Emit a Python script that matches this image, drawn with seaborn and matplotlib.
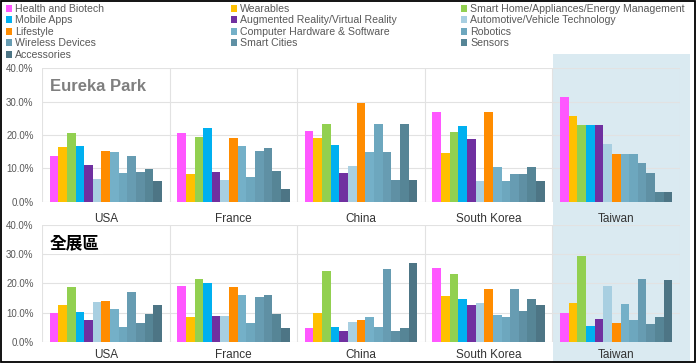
import pandas as pd
import seaborn as sns
import matplotlib.pyplot as plt
from matplotlib.patches import Patch, Rectangle
from matplotlib.ticker import PercentFormatter

# categories (legend order) and colours
categories = [
    "Health and Biotech", "Wearables", "Smart Home/Appliances/Energy Management",
    "Mobile Apps", "Augmented Reality/Virtual Reality", "Automotive/Vehicle Technology",
    "Lifestyle", "Computer Hardware & Software", "Robotics",
    "Wireless Devices", "Smart Cities", "Sensors",
    "Accessories",
]
colors = [
    "#FF57FF", "#FFC000", "#92D050",
    "#00B0F0", "#7030A0", "#A8CFE1",
    "#FF8C00", "#74B0C8", "#6DA7BE",
    "#679CB2", "#5F90A4", "#568596",
    "#4D7585",
]
countries = ["USA", "France", "China", "South Korea", "Taiwan"]

# share of exhibitors (%), Eureka Park
eureka_usa = [13.7, 16.3, 20.5, 16.6, 10.9, 6.8, 15.2, 14.9, 8.6, 13.6, 8.9, 9.9, 6.2]
eureka_france = [20.6, 8.4, 19.5, 22.1, 8.8, 6.5, 19.2, 16.7, 7.4, 15.3, 16.0, 9.1, 3.7]
eureka_china = [21.3, 19.2, 23.3, 17.0, 8.5, 10.7, 29.7, 14.9, 23.3, 14.9, 6.4, 23.3, 6.4]
eureka_korea = [27.0, 14.5, 20.8, 22.8, 18.7, 6.2, 27.0, 10.5, 6.2, 8.3, 8.3, 10.5, 6.2]
eureka_taiwan = [31.3, 25.7, 22.9, 22.9, 22.9, 17.2, 14.3, 14.3, 14.3, 11.5, 8.6, 2.9, 2.9]

# share of exhibitors (%), whole show
all_usa = [9.8, 12.7, 18.6, 10.1, 7.4, 13.5, 14.0, 11.1, 5.1, 17.2, 6.5, 9.6, 12.5]
all_france = [19.2, 8.4, 21.6, 20.1, 8.8, 8.8, 18.6, 16.0, 6.4, 15.4, 16.0, 9.5, 4.7]
all_china = [4.6, 9.8, 24.1, 4.9, 3.8, 6.9, 7.5, 8.4, 5.2, 24.9, 3.7, 4.8, 27.0]
all_korea = [25.2, 15.7, 23.3, 14.8, 12.5, 13.4, 18.2, 9.1, 8.4, 18.2, 10.6, 14.8, 12.5]
all_taiwan = [10.0, 13.4, 29.5, 5.4, 7.9, 19.0, 6.3, 13.0, 7.5, 21.6, 5.9, 8.4, 21.0]

sns.set_theme(style="white")
plt.rcParams["font.family"] = ["Liberation Sans", "Noto Sans CJK TC", "DejaVu Sans"]

palette = dict(zip(categories, colors))
GRID = "#E2E2E2"
TEXT = "#595959"


def to_long(series):
    rows = []
    for country, vals in zip(countries, series):
        for cat, v in zip(categories, vals):
            rows.append({"country": country, "category": cat, "share": v})
    return pd.DataFrame(rows)


df_eureka = to_long([eureka_usa, eureka_france, eureka_china, eureka_korea, eureka_taiwan])
df_all = to_long([all_usa, all_france, all_china, all_korea, all_taiwan])

fig = plt.figure(figsize=(6.96, 3.63), dpi=100)
fig.patch.set_facecolor("white")

# Taiwan highlight across both panels
fig.add_artist(Rectangle((553 / 696, 0), 137 / 696, 1 - 54 / 363, transform=fig.transFigure,
                         facecolor="#DAEAF1", edgecolor="none", zorder=-5))
# outer frame
fig.add_artist(Rectangle((0.0015, 0.003), 0.997, 0.994, transform=fig.transFigure,
                         fill=False, edgecolor="black", lw=1.3, zorder=20))

ax_top = fig.add_axes([42 / 696, 1 - 201.7 / 363, 638 / 696, 133.4 / 363])
ax_bot = fig.add_axes([42 / 696, 1 - 341.7 / 363, 638 / 696, 116.7 / 363])


def draw_panel(ax, df, label, label_color, label_y, xpad):
    ax.set_facecolor("none")
    sns.barplot(data=df, x="country", y="share", hue="category", order=countries,
                hue_order=categories, palette=palette, width=0.88, linewidth=0,
                saturation=1, errorbar=None, legend=False, ax=ax)
    ax.set_ylim(0, 40)
    ax.set_xlim(-0.5, 4.5)
    ax.set_yticks([0, 10, 20, 30, 40])
    ax.yaxis.set_major_formatter(PercentFormatter(100, decimals=1))
    ax.grid(axis="y", color=GRID, lw=0.8)
    ax.set_axisbelow(True)
    for x in [-0.5, 0.5, 1.5, 2.5, 3.5, 4.5]:
        ax.axvline(x, color=GRID, lw=0.8, zorder=0)
    for s in ax.spines.values():
        s.set_visible(False)
    ax.set_xlabel("")
    ax.set_ylabel("")
    ax.tick_params(axis="x", length=0, pad=xpad, labelsize=8.5, labelcolor="#333333")
    ax.tick_params(axis="y", length=0, pad=6, labelsize=7, labelcolor=TEXT)
    ax.text(0.0125, label_y, label, transform=ax.transAxes, ha="left", va="center",
            fontsize=12, fontweight="bold", color=label_color,
            bbox=dict(facecolor="white", edgecolor="none", pad=2))


draw_panel(ax_top, df_eureka, "Eureka Park", "#7F7F7F", 0.862, 8)
draw_panel(ax_bot, df_all, "全展區", "black", 0.843, 5)

# legend: three columns filled row by row
col_x = [6 / 696, 231 / 696, 461 / 696]
for c in range(3):
    idx = list(range(c, len(categories), 3))
    handles = [Patch(facecolor=colors[i], edgecolor="none") for i in idx]
    labels = [categories[i] for i in idx]
    fig.legend(handles, labels, loc="upper left", bbox_to_anchor=(col_x[c], 1 - 4 / 363),
               frameon=False, fontsize=7.6, labelcolor=TEXT, handlelength=0.6,
               handleheight=0.6, handletextpad=0.25, labelspacing=0.14,
               borderpad=0, borderaxespad=0)

fig.savefig("out.png", dpi=100)
